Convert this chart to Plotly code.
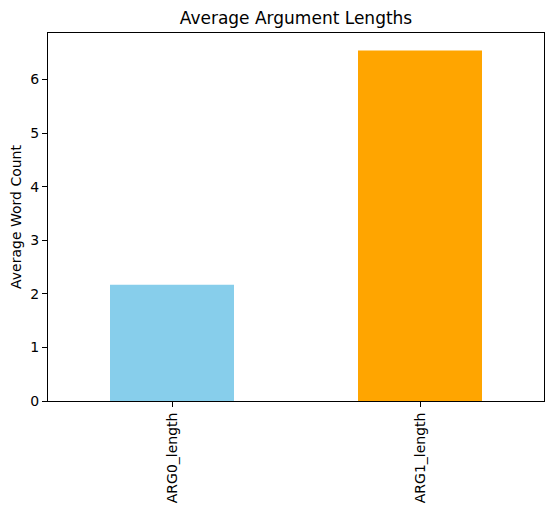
import plotly.graph_objects as go

categories = ["ARG0_length", "ARG1_length"]
avg_words = [2.17, 6.54]
colors = ["#87CEEB", "#FFA500"]

# the page body adds an 8px margin, so the figure is drawn 8px smaller
W, H = 546, 503

fig = go.Figure(go.Bar(
    x=[0, 1], y=avg_words, width=0.5, marker=dict(color=colors, line=dict(width=0)),
))

axis_common = dict(
    showline=True, linecolor="black", linewidth=1, mirror=True,
    ticks="outside", ticklen=5, tickwidth=1, tickcolor="black",
    showgrid=False, zeroline=False, automargin=False,
    tickfont=dict(family="DejaVu Sans", size=14, color="black"),
)
fig.update_xaxes(
    range=[-0.5, 1.5], tickvals=[0, 1], ticktext=categories, tickangle=-90,
    **axis_common,
)
fig.update_yaxes(
    range=[0, max(avg_words) * 1.05], tickvals=list(range(7)),
    title=dict(text="Average Word Count", font=dict(family="DejaVu Sans", size=14, color="black"), standoff=8),
    **axis_common,
)
fig.update_layout(
    width=W, height=H,
    margin=dict(l=40, r=10, t=25, b=110),
    plot_bgcolor="white", paper_bgcolor="white",
    title=dict(text="Average Argument Lengths", x=0.5, xref="paper", y=1 - 10 / H, yanchor="middle",
               font=dict(family="DejaVu Sans", size=17, color="black")),
    showlegend=False,
)
fig.write_html("out.html")
